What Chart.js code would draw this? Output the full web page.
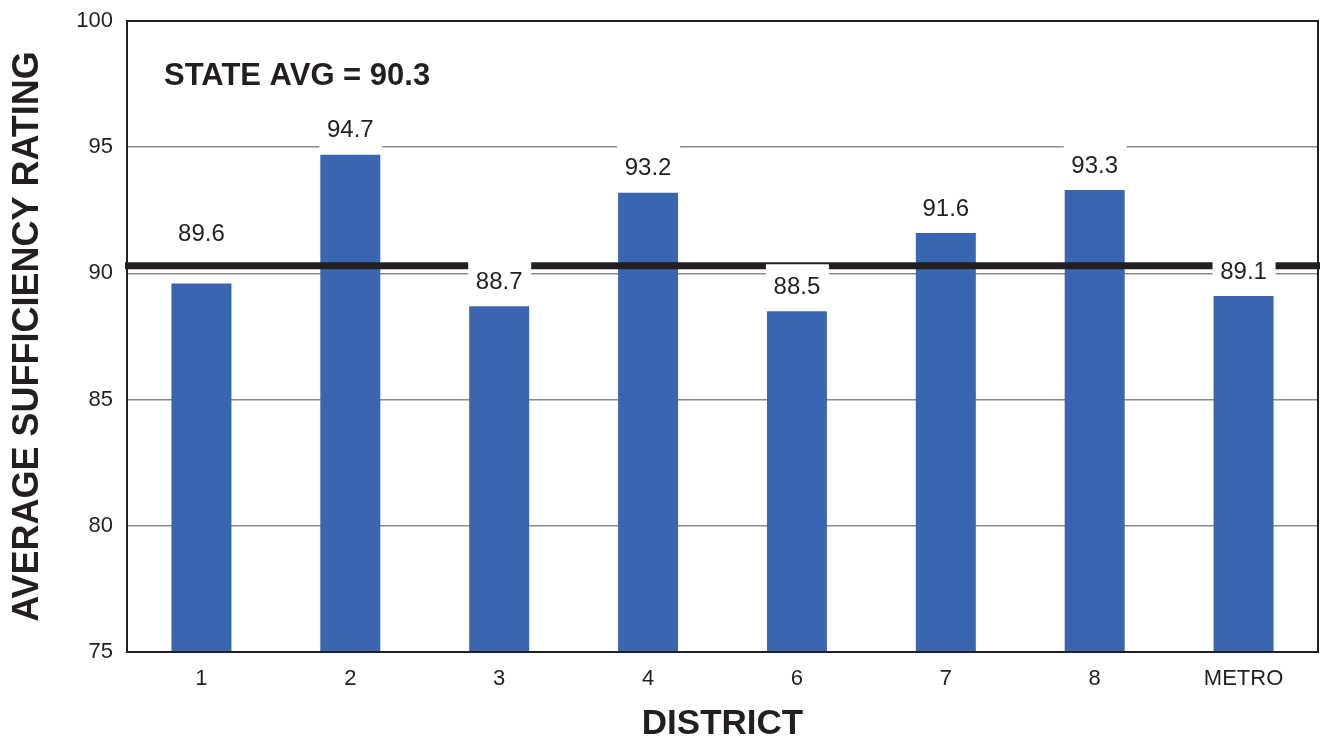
<!DOCTYPE html>
<html>
<head>
<meta charset="utf-8">
<script src="https://cdn.jsdelivr.net/npm/chart.js@4.4.0/dist/chart.umd.min.js"></script>
<style>
    html, body { margin: 0; padding: 0; background: #fff; }
    #wrap { width: 1320px; height: 742px; }
</style>
</head>
<body>
<div id="wrap"><canvas id="ratingChart" width="1320" height="742"></canvas></div>
<script>
// Chart data
const districts = ['1', '2', '3', '4', '6', '7', '8', 'METRO'];
const ratings = [89.6, 94.7, 88.7, 93.2, 88.5, 91.6, 93.3, 89.1];
const stateAvg = 90.3;
const yTicks = [75, 80, 85, 90, 95, 100];

const INK = '#231f20';
const FONT = '"Liberation Sans", Arial, Helvetica, sans-serif';

/**
 * Frame, state average line, value labels and the average note
 */
const avgLinePlugin = {
    id: 'avgLine',
    afterDatasetsDraw(chart) {
        const { ctx, chartArea, scales: { y } } = chart;
        const yAvg = y.getPixelForValue(stateAvg);
        ctx.save();

        // plot frame
        ctx.strokeStyle = INK;
        ctx.lineWidth = 2;
        ctx.strokeRect(chartArea.left, chartArea.top,
            chartArea.right - chartArea.left, chartArea.bottom - chartArea.top);

        // state average line
        ctx.lineWidth = 7;
        ctx.beginPath();
        ctx.moveTo(chartArea.left - 2, yAvg);
        ctx.lineTo(chart.width, yAvg);
        ctx.stroke();

        // value labels on white boxes
        ctx.font = `24px ${FONT}`;
        ctx.textAlign = 'center';
        ctx.textBaseline = 'middle';
        const meta = chart.getDatasetMeta(0);
        ratings.forEach((v, i) => {
            const bar = meta.data[i];
            let cy = bar.y - 25;
            // just under the average: lift the label above the line
            if (v < stateAvg && v > stateAvg - 1) cy = yAvg - 32;
            ctx.fillStyle = '#fff';
            ctx.fillRect(bar.x - 31, cy - 22, 63, 44);
            ctx.fillStyle = INK;
            ctx.fillText(v.toFixed(1), bar.x, cy + 1);
        });

        // average note
        ctx.font = `bold 31px ${FONT}`;
        ctx.textAlign = 'left';
        ctx.fillText(`STATE AVG = ${stateAvg}`, chartArea.left + 37, 76);
        ctx.restore();
    }
};

const ctx = document.getElementById('ratingChart').getContext('2d');
new Chart(ctx, {
    type: 'bar',
    data: {
        labels: districts,
        datasets: [{
            data: ratings,
            backgroundColor: '#3a65b0',
            borderWidth: 0,
            categoryPercentage: 1,
            barPercentage: 0.403
        }]
    },
    options: {
        responsive: false,
        animation: false,
        layout: { padding: { left: 4, top: 21, right: 2, bottom: 0 } },
        plugins: {
            legend: { display: false },
            tooltip: { enabled: false }
        },
        scales: {
            x: {
                grid: { display: false, drawTicks: false },
                border: { display: false },
                ticks: { color: INK, font: { family: FONT, size: 22 }, padding: 14 },
                title: {
                    display: true,
                    text: 'DISTRICT',
                    color: INK,
                    font: { family: FONT, size: 35, weight: 'bold', lineHeight: 1 },
                    padding: { top: 0, bottom: 0 }
                },
                afterFit: s => { s.height = 90; s.paddingLeft = 0; s.paddingRight = 0; }
            },
            y: {
                min: 75,
                max: 100,
                afterBuildTicks: s => { s.ticks = yTicks.map(v => ({ value: v })); },
                grid: { color: '#8a8a8a', lineWidth: 1.5, drawTicks: false },
                border: { display: false },
                ticks: { color: INK, font: { family: FONT, size: 22 }, padding: 14 },
                title: {
                    display: true,
                    text: 'AVERAGE SUFFICIENCY RATING',
                    color: INK,
                    font: { family: FONT, size: 36, weight: 'bold', lineHeight: 1.2 },
                    padding: { top: 2, bottom: 0 }
                },
                afterFit: s => { s.width = 123; s.paddingTop = 0; s.paddingBottom = 0; }
            }
        }
    },
    plugins: [avgLinePlugin]
});
</script>
</body>
</html>
